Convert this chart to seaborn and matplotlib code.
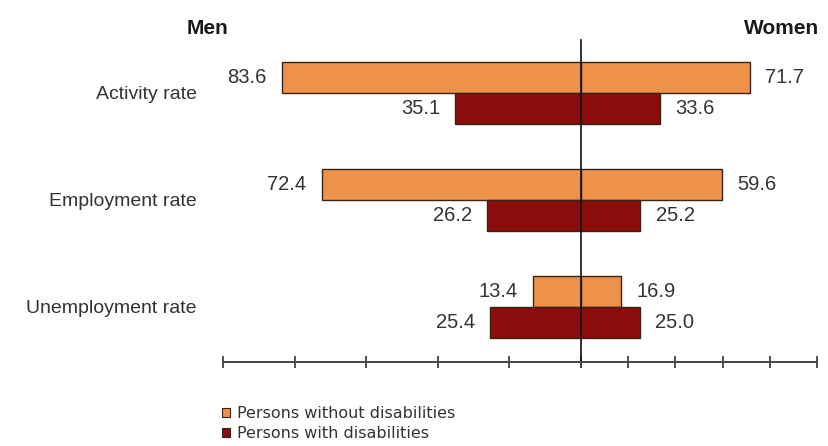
import matplotlib
matplotlib.use("Agg")
import matplotlib.pyplot as plt
import seaborn as sns
import pandas as pd
from matplotlib.patches import Patch

# ---- data ----
categories = ["Activity rate", "Employment rate", "Unemployment rate"]
groups = ["Persons without disabilities", "Persons with disabilities"]
men_without = [83.6, 72.4, 13.4]
men_with = [35.1, 26.2, 25.4]
women_without = [71.7, 59.6, 16.9]
women_with = [33.6, 25.2, 25.0]
axis_ticks = [0, 20, 40, 60, 80, 100]

colors = ["#EF9249", "#8C0B0B"]
edge = "#3a2418"
text_col = "#333333"

def long_df(without, with_):
    rows = []
    for c, v in zip(categories, without):
        rows.append({"category": c, "group": groups[0], "value": v})
    for c, v in zip(categories, with_):
        rows.append({"category": c, "group": groups[1], "value": v})
    return pd.DataFrame(rows)

men_df = long_df(men_without, men_with)
women_df = long_df(women_without, women_with)

sns.set_theme(style="white")
plt.rcParams["font.family"] = ["Liberation Sans", "DejaVu Sans"]

W, H = 829, 446
fig = plt.figure(figsize=(W / 100, H / 100), dpi=100)

def fx(px):
    return px / W

def fy(py):
    return 1 - py / H

top_px, bot_px = 40, 362
left_px, mid_px, right_px = 223, 581, 817
axL = fig.add_axes([fx(left_px), fy(bot_px), fx(mid_px - left_px), (bot_px - top_px) / H])
axR = fig.add_axes([fx(mid_px), fy(bot_px), fx(right_px - mid_px), (bot_px - top_px) / H])

for ax, df, side in [(axL, men_df, -1), (axR, women_df, 1)]:
    sns.barplot(data=df, y="category", x="value", hue="group", orient="h",
                order=categories, hue_order=groups, palette=colors,
                width=0.58, edgecolor=edge, linewidth=1.0, ax=ax,
                legend=False, errorbar=None, saturation=1)
    ax.set_ylim(2.514, -0.495)
    ax.set_xlabel("")
    ax.set_ylabel("")
    ax.set_facecolor("none")
    for s in ax.spines.values():
        s.set_visible(False)
    ax.spines["bottom"].set_visible(True)
    ax.spines["bottom"].set_color("#444444")
    ax.spines["bottom"].set_linewidth(1.4)
    ax.set_xticks(axis_ticks)
    ax.tick_params(axis="x", direction="inout", length=8, width=1.3,
                   color="#444444", labelbottom=False, bottom=True)
    for cont in ax.containers:
        for p in cont.patches:
            val = p.get_width()
            yc = p.get_y() + p.get_height() / 2
            ax.annotate(f"{val:.1f}", xy=(val, yc), xytext=(side * 11, 0),
                        textcoords="offset points",
                        ha="right" if side < 0 else "left", va="center",
                        fontsize=14.5, color=text_col)

axL.set_xlim(100, 0)
axR.set_xlim(0, 100)

axL.tick_params(axis="y", length=0, pad=19, labelsize=14, labelcolor=text_col)
axR.tick_params(axis="y", left=False, labelleft=False)

axR.spines["left"].set_visible(True)
axR.spines["left"].set_color("#111111")
axR.spines["left"].set_linewidth(1.2)

fig.text(fx(208), fy(34), "Men", ha="center", va="baseline",
         fontsize=15, fontweight="bold", color="#1a1a1a")
fig.text(fx(782), fy(34), "Women", ha="center", va="baseline",
         fontsize=15, fontweight="bold", color="#1a1a1a")

handles = [Patch(facecolor=c, edgecolor=edge, linewidth=0.8) for c in colors]
fig.legend(handles, groups, loc="upper left", bbox_to_anchor=(fx(216), fy(400)),
           frameon=False, handlelength=0.5, handleheight=0.5,
           handletextpad=0.4, labelspacing=0.3, borderaxespad=0,
           prop={"family": "DejaVu Sans", "size": 11.5}, labelcolor=text_col)

fig.savefig("out.png", dpi=100)
